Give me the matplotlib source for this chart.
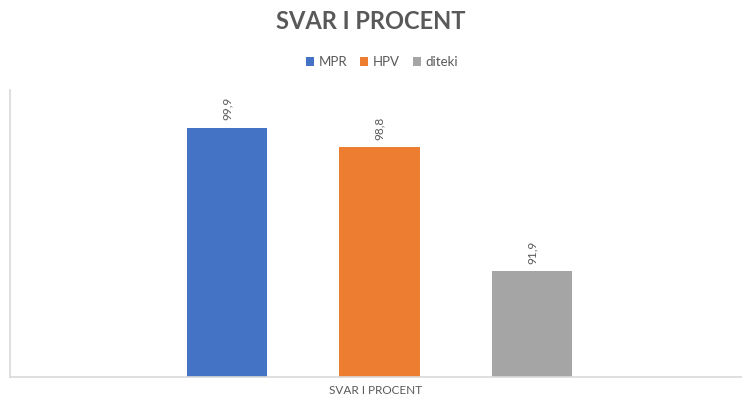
import matplotlib.pyplot as plt

# values
series = ["MPR", "HPV", "diteki"]
values = [99.9, 98.8, 91.9]
labels = ["99,9", "98,8", "91,9"]
colors = ["#4472C4", "#ED7D31", "#A5A5A5"]
category = "SVAR I PROCENT"

plt.rcParams["font.family"] = ["Lato", "DejaVu Sans"]

fig = plt.figure(figsize=(7.42, 4.01), dpi=100)
ax = fig.add_axes([10 / 742, 24 / 401, 732 / 742, 287 / 401])

positions = [0, 1, 2]
for x, v, lab, c, name in zip(positions, values, labels, colors, series):
    ax.bar(x, v, width=0.525, color=c, label=name)
    ax.text(x, v + 0.4, lab, rotation=90, ha="center", va="bottom",
            fontsize=8.5, color="#595959")

ax.set_xlim(-1.423, 3.377)
ax.set_ylim(86, 102)

# only the left and bottom axis lines, light grey like Excel
for side in ["top", "right"]:
    ax.spines[side].set_visible(False)
for side in ["left", "bottom"]:
    ax.spines[side].set_color("#D9D9D9")
    ax.spines[side].set_linewidth(1.2)
ax.set_xticks([])
ax.set_yticks([])
ax.set_xlabel(category, fontsize=8.5, color="#595959", labelpad=6)

fig.suptitle(category, x=0.5, y=0.975, fontsize=17, fontweight="bold", color="#595959")
fig.legend(loc="center", bbox_to_anchor=(0.515, 0.845), ncol=3, frameon=False,
           fontsize=9.5, labelcolor="#595959", handlelength=0.6, handleheight=0.6,
           handletextpad=0.35, columnspacing=1.0)

fig.savefig("out.png", dpi=100)
